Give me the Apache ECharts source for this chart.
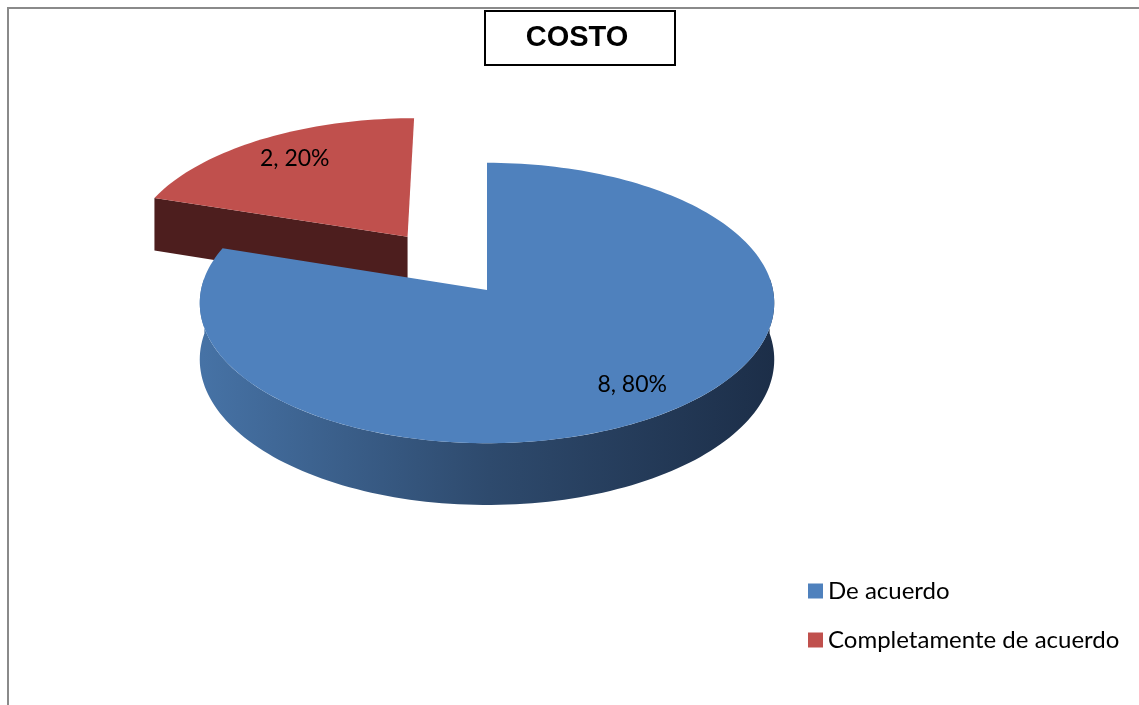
<!DOCTYPE html>
<html>
<head>
<meta charset="utf-8">
<script src="https://cdn.jsdelivr.net/npm/echarts@6/dist/echarts.min.js"></script>
<style>
  html, body { margin: 0; padding: 0; background: #ffffff; }
  #chart { width: 1139px; height: 705px; }
</style>
</head>
<body>
<div id="chart"></div>
<script>
// ---- data ----
const categories = ['De acuerdo', 'Completamente de acuerdo'];
const values = [8, 2];
const chartTitle = 'COSTO';

// ---- styles ----
const topColors = ['#4f81bd', '#c0504d'];
const sideFills = [
  { type: 'linear', global: true, x: 203, y: 0, x2: 775, y2: 0,
    colorStops: [
      { offset: 0, color: '#4672a5' },
      { offset: 0.5, color: '#2e4a6d' },
      { offset: 1, color: '#1c2e48' }
    ] },
  '#4d1e1e'
];
// radial offset of each slice away from the centre (fraction of radius)
const explode = [0, 0.49];

// projected disc: centre, radii, thickness and a little perspective
const geo = { cx: 487, cy: 290, rx: 286, ry: 139, depth: 56, persp: 0.093 };

const total = values.reduce((a, b) => a + b, 0);
const starts = [];
let acc = 0;
values.forEach(v => { starts.push(acc / total * 360); acc += v; });

// u: right, v: away from the viewer, h: 0 on top, 1 at the bottom
function project(u, v, h) {
  const s = 1 / (1 + geo.persp * v);
  return [geo.cx + u * geo.rx * s, geo.cy - v * geo.ry * s + h * geo.depth * s];
}

function renderSlice(i) {
  return function () {
    const a0 = starts[i];
    const a1 = a0 + values[i] / total * 360;
    const midDeg = (a0 + a1) / 2;
    const mid = midDeg * Math.PI / 180;
    const ou = explode[i] * Math.sin(mid);
    const ov = explode[i] * Math.cos(mid);
    const pt = (deg, r, h) => {
      const t = deg * Math.PI / 180;
      return project(ou + r * Math.sin(t), ov + r * Math.cos(t), h);
    };
    const arc = (from, to, h) => {
      const n = Math.max(2, Math.ceil(Math.abs(to - from) / 1.5));
      const out = [];
      for (let k = 0; k <= n; k++) out.push(pt(from + (to - from) * k / n, 1, h));
      return out;
    };
    const children = [];

    // radial walls that face the viewer
    [[a0, -1], [a1, 1]].forEach(([deg, dir]) => {
      const nv = -dir * Math.sin(deg * Math.PI / 180);
      if (nv < -0.01) {
        children.push({
          type: 'polygon',
          shape: { points: [pt(deg, 0, 0), pt(deg, 1, 0), pt(deg, 1, 1), pt(deg, 0, 1)] },
          style: { fill: sideFills[i] }
        });
      }
    });

    // front part of the curved outer wall
    const lo = Math.max(a0, 85), hi = Math.min(a1, 275);
    if (hi > lo) {
      children.push({
        type: 'polygon',
        shape: { points: arc(lo, hi, 0).concat(arc(hi, lo, 1)) },
        style: { fill: sideFills[i] }
      });
    }

    // top face
    children.push({
      type: 'polygon',
      shape: { points: [pt(a0, 0, 0)].concat(arc(a0, a1, 0)) },
      style: { fill: topColors[i] }
    });

    // value label
    const lp = pt(midDeg, 0.79, 0);
    children.push({
      type: 'text',
      x: lp[0] + 4, y: lp[1],
      style: {
        text: values[i] + ', ' + Math.round(values[i] / total * 100) + '%',
        font: '23px Lato',
        fill: '#000000',
        align: 'center',
        verticalAlign: 'middle'
      }
    });

    return { type: 'group', children: children };
  };
}

// slices further back are painted first
const drawOrder = [1, 0];
const series = drawOrder.map((i, k) => ({
  type: 'custom',
  name: categories[i],
  coordinateSystem: 'none',
  z: 2 + k,
  silent: true,
  itemStyle: { color: topColors[i] },
  data: [[i]],
  renderItem: renderSlice(i)
}));

const chart = echarts.init(document.getElementById('chart'), null, { renderer: 'canvas' });
chart.setOption({
  animation: false,
  backgroundColor: '#ffffff',
  legend: {
    data: categories,
    orient: 'vertical',
    left: 803,
    top: 574,
    icon: 'rect',
    itemWidth: 15,
    itemHeight: 15,
    itemGap: 25,
    selectedMode: false,
    textStyle: { fontFamily: 'Lato', fontSize: 24, color: '#000000' }
  },
  graphic: [
    { type: 'rect', silent: true, z: 0,
      shape: { x: 8, y: 8, width: 1200, height: 800 },
      style: { fill: 'none', stroke: '#8a8a8a', lineWidth: 2 } },
    { type: 'rect', silent: true, z: 10,
      shape: { x: 485, y: 11, width: 190, height: 54 },
      style: { fill: '#ffffff', stroke: '#000000', lineWidth: 2 } },
    { type: 'text', silent: true, z: 11, x: 577, y: 38,
      style: { text: chartTitle, font: 'bold 29px "Liberation Sans"', fill: '#000000',
               align: 'center', verticalAlign: 'middle' } }
  ],
  series: series
});
</script>
</body>
</html>
